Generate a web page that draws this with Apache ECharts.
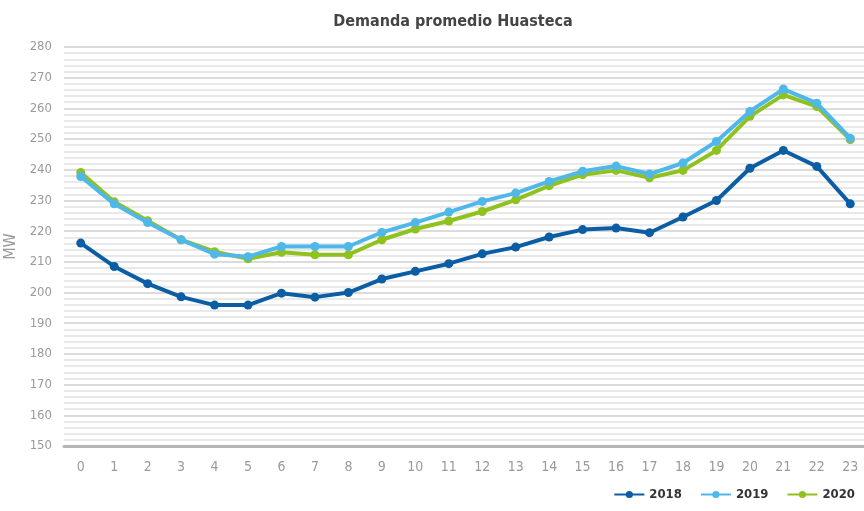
<!DOCTYPE html>
<html>
<head>
<meta charset="utf-8">
<script src="https://cdn.jsdelivr.net/npm/echarts@6/dist/echarts.min.js"></script>
<style>
  html, body { margin: 0; padding: 0; background: #fff; }
  #chart { width: 864px; height: 511px; }
</style>
</head>
<body>
<div id="chart"></div>
<script>
// 数据
const hours = ['0','1','2','3','4','5','6','7','8','9','10','11','12','13','14','15','16','17','18','19','20','21','22','23'];
const d2018 = [216.1, 208.5, 202.9, 198.6, 195.9, 195.9, 199.8, 198.5, 200.0, 204.4, 206.9, 209.4, 212.6, 214.8, 218.1, 220.5, 221.0, 219.5, 224.6, 230.0, 240.5, 246.3, 241.1, 228.9];
const d2019 = [237.8, 228.9, 222.8, 217.2, 212.5, 211.7, 215.0, 215.0, 215.0, 219.6, 222.8, 226.2, 229.7, 232.4, 236.2, 239.5, 241.2, 238.6, 242.2, 249.2, 259.0, 266.3, 261.7, 250.3];
const d2020 = [239.1, 229.6, 223.4, 217.2, 213.3, 211.0, 213.1, 212.3, 212.3, 217.2, 220.7, 223.3, 226.4, 230.2, 234.8, 238.4, 239.8, 237.4, 239.8, 246.3, 257.4, 264.4, 260.6, 249.8];
const seriesNames = ['2018', '2019', '2020'];
const colors = ['#0b5ea3', '#4fb8e9', '#8fc21f'];

const FONT = "'DejaVu Sans Condensed', 'Liberation Sans Narrow', sans-serif";

let myChart = echarts.init(document.getElementById('chart'), null, {renderer: 'canvas'});

function makeSeries(name, data, color) {
  return {
    name: name,
    type: 'line',
    data: data,
    symbol: 'circle',
    symbolSize: 9,
    lineStyle: { width: 4, color: color },
    itemStyle: { color: color },
    z: name === '2019' ? 4 : 3
  };
}

let option = {
  animation: false,
  color: colors,
  title: {
    text: 'Demanda promedio Huasteca',
    left: 448,
    textAlign: 'center',
    top: 9,
    textStyle: { fontFamily: FONT, fontSize: 16, fontWeight: 'bold', color: '#444' }
  },
  legend: {
    data: seriesNames,
    right: 4,
    bottom: 5,
    itemWidth: 30,
    itemHeight: 9,
    itemGap: 18,
    textStyle: { fontFamily: FONT, fontSize: 13, fontWeight: 'bold', color: '#333' }
  },
  grid: { left: 64, right: -3, top: 47, bottom: 65, outerBoundsMode: 'none' },
  xAxis: {
    type: 'category',
    data: hours,
    boundaryGap: true,
    axisLine: { show: true, lineStyle: { color: '#b5b5b5', width: 3 } },
    axisTick: { show: false },
    axisLabel: { fontFamily: FONT, fontSize: 14, color: '#9a9a9a', margin: 14 }
  },
  yAxis: {
    type: 'value',
    name: 'MW',
    nameLocation: 'middle',
    nameRotate: 90,
    nameGap: 38,
    nameTextStyle: { fontFamily: FONT, fontSize: 16, color: '#9a9a9a', verticalAlign: 'top' },
    min: 150,
    max: 280,
    interval: 10,
    axisLine: { show: false },
    axisTick: { show: false },
    axisLabel: { fontFamily: FONT, fontSize: 13, color: '#9a9a9a', margin: 12 },
    splitLine: { show: true, lineStyle: { color: '#cfcfcf', width: 1.5 } },
    minorTick: { show: false, splitNumber: 5 },
    minorSplitLine: { show: true, lineStyle: { color: '#e2e2e2', width: 1.5 } }
  },
  series: [
    makeSeries('2018', d2018, colors[0]),
    makeSeries('2019', d2019, colors[1]),
    makeSeries('2020', d2020, colors[2])
  ]
};
myChart.setOption(option);
</script>
</body>
</html>
